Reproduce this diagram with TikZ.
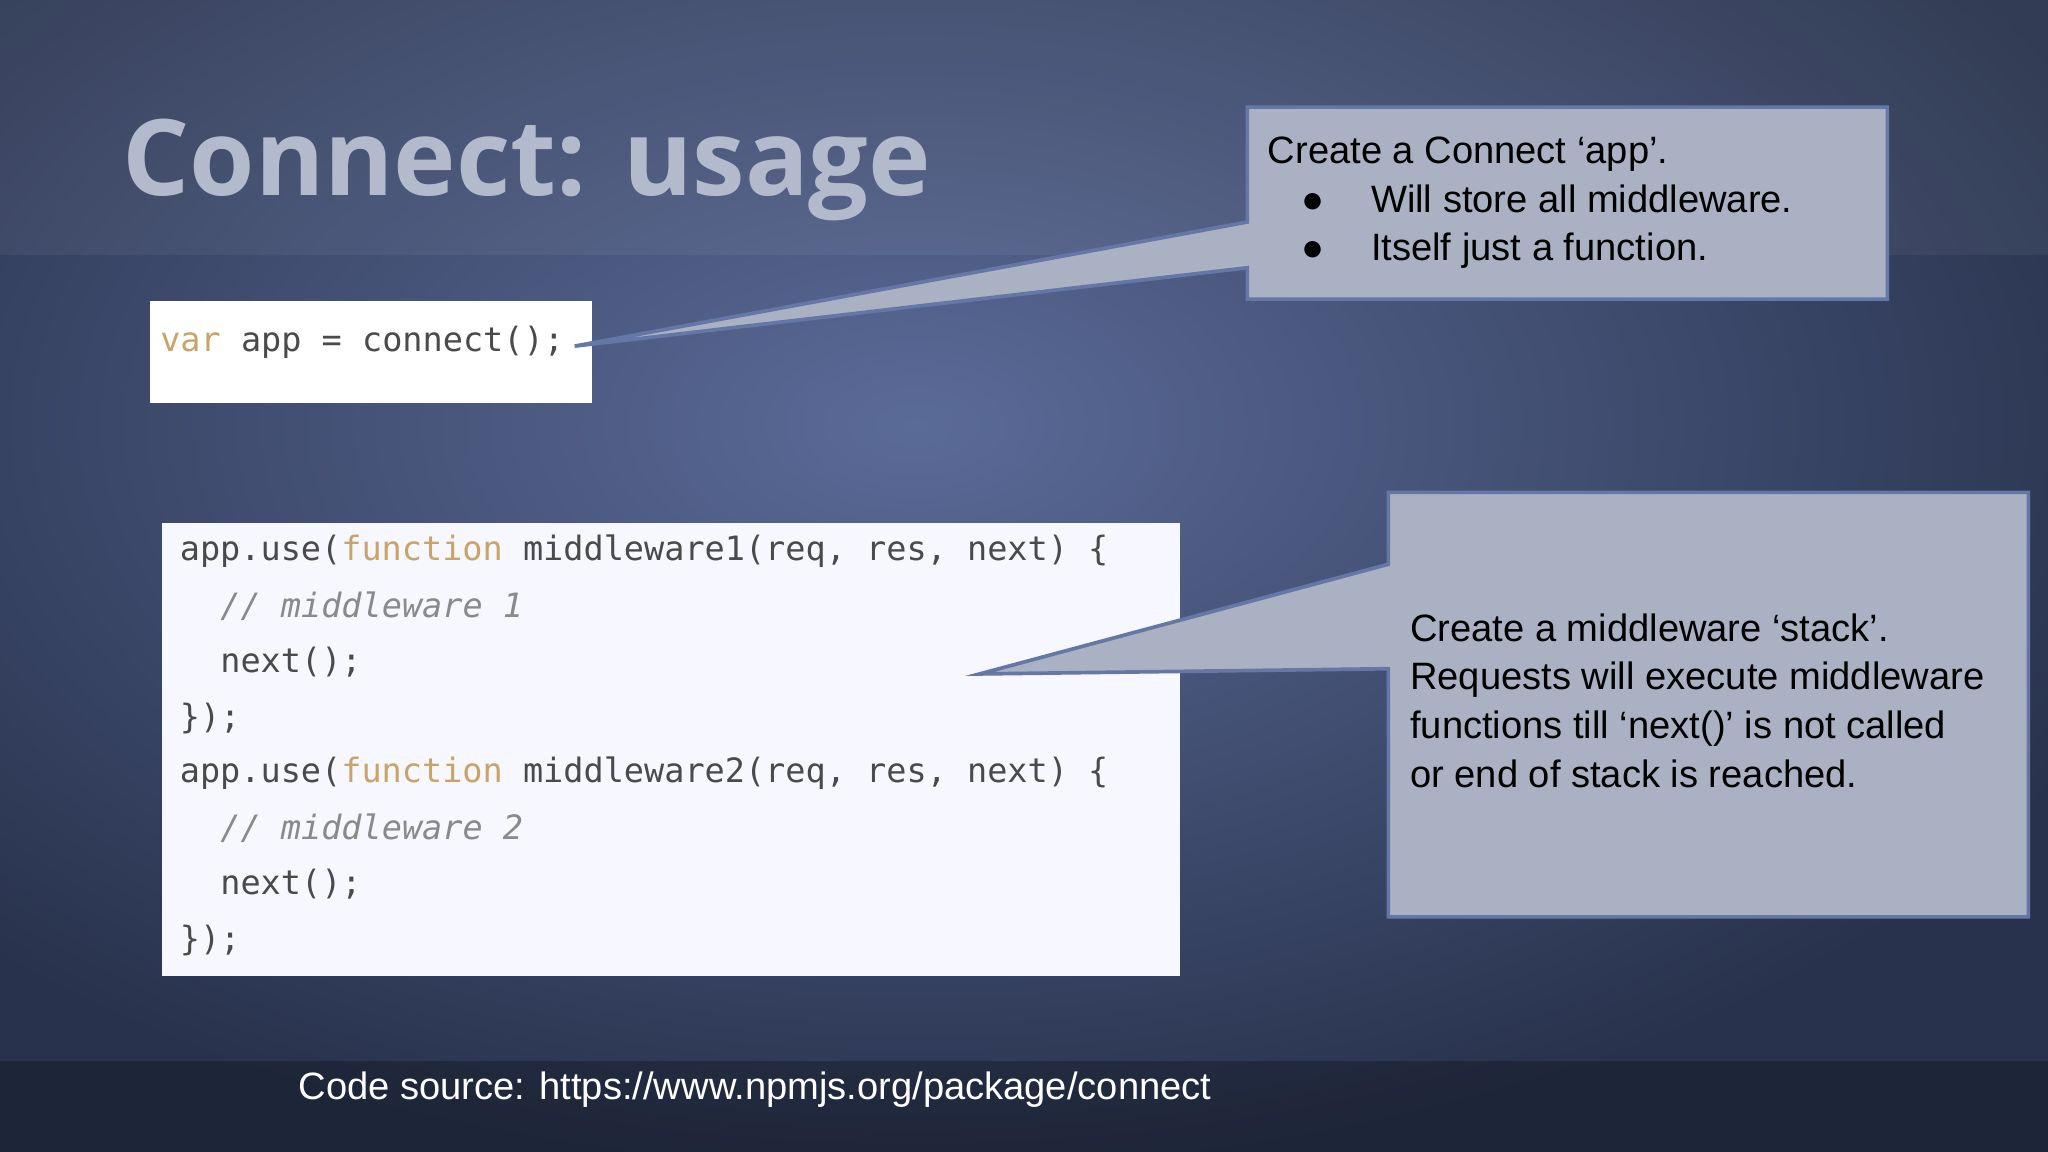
\documentclass[tikz,border=0pt]{standalone}
\usepackage{fontspec}
\setmainfont{Liberation Sans}
\newfontfamily\titlefont{Open Sans}
\newfontfamily\codefont{DejaVu Sans Mono}
\definecolor{bgin}{HTML}{5B6B98}
\definecolor{bgout}{HTML}{28324C}
\definecolor{titlec}{HTML}{B2BACB}
\definecolor{callf}{HTML}{A9B1C2}
\definecolor{callb}{HTML}{6577A6}
\definecolor{kw}{HTML}{C9A466}
\definecolor{codec}{HTML}{4A4A4A}
\definecolor{cmt}{HTML}{8A8A8A}
\begin{document}
\begin{tikzpicture}[x=0.01cm,y=-0.01cm,
  calltext/.style={font=\fontsize{8.3}{10.3}\selectfont,anchor=north west,align=left,inner sep=0,text=black},
  codeline/.style={font=\codefont\fontsize{7.3}{9}\selectfont,anchor=west,inner sep=0,text=codec},
  callbox/.style={fill=callf,draw=callb,line width=0.8pt}]
\useasboundingbox (0,0) rectangle (1568,882);
\shade[inner color=bgin,outer color=bgout] (-300,-250) rectangle (1700,900);
\fill[white,opacity=0.05] (0,0) rectangle (1568,195);
\fill[black,opacity=0.25] (0,812) rectangle (1568,882);
\node[anchor=base west,inner sep=0,text=titlec,font=\titlefont\bfseries\fontsize{23}{26}\selectfont] (title) at (93,150) {Connect: usage};
% code box 1
\node[fill=white,minimum width=3.38cm,minimum height=0.78cm,inner sep=0,anchor=north west] (code1) at (114,230) {};
\node[codeline] (c1) at (122,262) {\textcolor{kw}{var} app = connect();};
% code box 2
\node[fill=white!97!blue,minimum width=7.79cm,minimum height=3.46cm,inner sep=0,anchor=north west] (code2) at (123,400) {};
\node[codeline] (l1) at (137,422) {app.use(\textcolor{kw}{function} middleware1(req, res, next) \{};
\node[codeline,text=cmt] (l2) at (168,464) {\itshape // middleware 1};
\node[codeline] (l3) at (168,507) {next();};
\node[codeline] (l4) at (137,550) {\});};
\node[codeline] (l5) at (137,592) {app.use(\textcolor{kw}{function} middleware2(req, res, next) \{};
\node[codeline,text=cmt] (l6) at (168,634) {\itshape // middleware 2};
\node[codeline] (l7) at (168,677) {next();};
\node[codeline] (l8) at (137,720) {\});};
% callout 1
\coordinate (p1) at (440,265);
\draw[callbox] (955,82) -- (1445,82) -- (1445,229) -- (955,229) -- (955,205) -- (p1) -- (955,170) -- cycle;
\node[calltext] (t1) at (970,104) {Create a Connect ‘app’.\\[0.3pt]
\hspace*{2.6mm}\makebox[5.3mm][l]{●}Will store all middleware.\\[0.3pt]
\hspace*{2.6mm}\makebox[5.3mm][l]{●}Itself just a function.};
% callout 2
\coordinate (p2) at (750,516);
\draw[callbox] (1063,377) -- (1553,377) -- (1553,702) -- (1063,702) -- (1063,512) -- (p2) -- (1063,432) -- cycle;
\node[calltext] (t2) at (1079,469) {Create a middleware ‘stack’.\\[0.3pt]
Requests will execute middleware\\[0.3pt]
functions till ‘next()’ is not called\\[0.3pt]
or end of stack is reached.};
\node[anchor=base west,inner sep=0,text=white,font=\fontsize{8.3}{10}\selectfont] (src) at (228,842) {Code source: https://www.npmjs.org/package/connect};
\end{tikzpicture}
\end{document}
